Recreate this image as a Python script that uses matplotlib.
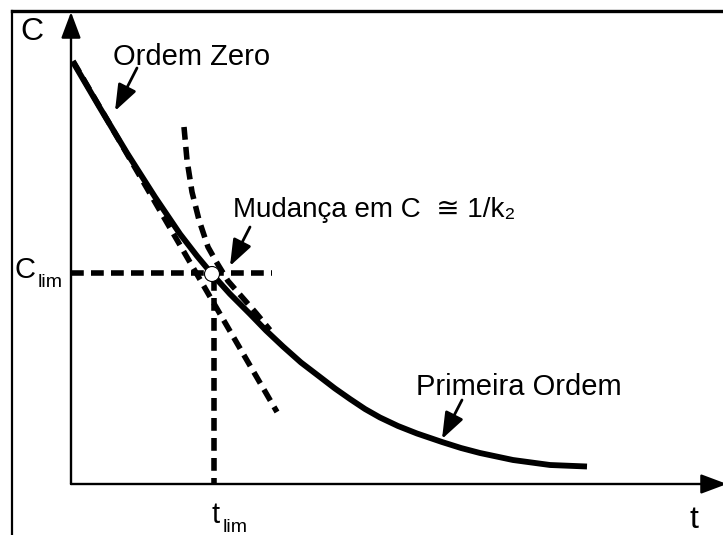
import numpy as np
import matplotlib
matplotlib.use("Agg")
import matplotlib.pyplot as plt
from matplotlib.patches import Circle

plt.rcParams['font.family'] = ['Liberation Sans', 'DejaVu Sans']

# curva de concentracao (unidades arbitrarias)
t_curve = [0.04, 0.58, 1.12, 1.68, 2.18, 2.52, 2.82, 3.18, 3.58, 3.90, 4.24,
           4.60, 4.98, 5.28, 5.58, 5.88, 6.18, 6.54, 6.92, 7.42, 7.80, 8.18,
           8.84, 9.58, 10.32]
c_curve = [8.44, 7.52, 6.62, 5.74, 5.00, 4.56, 4.20, 3.80, 3.40, 3.07, 2.75,
           2.43, 2.14, 1.91, 1.70, 1.50, 1.33, 1.16, 1.01, 0.84, 0.72, 0.62,
           0.48, 0.38, 0.35]

# tangente de ordem zero
t_zero = [0.04, 4.12]
c_zero = [8.46, 1.44]

# curva tracejada (primeira ordem)
t_first = [2.26, 2.32, 2.42, 2.56, 2.74, 2.92, 3.14, 3.42, 3.70, 3.98]
c_first = [7.14, 6.48, 5.84, 5.28, 4.74, 4.42, 4.06, 3.74, 3.42, 3.08]

t_lim = 2.84
c_lim = 4.22

fig = plt.figure(figsize=(7.23, 5.35), dpi=100)
ax = fig.add_axes([0, 0, 1, 1])
ax.set_xlim(-1.42, 13.04)
ax.set_ylim(-1.02, 9.68)
ax.axis('off')

# moldura
fig.add_artist(plt.Line2D([12 / 723, 12 / 723], [0, 1 - 11 / 535], color='black', lw=1.6))
fig.add_artist(plt.Line2D([12 / 723, 1], [1 - 11 / 535, 1 - 11 / 535], color='black', lw=2.4))

# eixos com setas
axis_arrow = dict(arrowstyle='-|>,head_length=0.8,head_width=0.3',
                  mutation_scale=20, lw=1.7, color='black', shrinkA=0, shrinkB=0)
ax.annotate('', xy=(0, 9.44), xytext=(0, 0), arrowprops=axis_arrow)
ax.annotate('', xy=(13.12, 0), xytext=(0, 0), annotation_clip=False,
            arrowprops=axis_arrow)

dash = (2.3, 1.3)
lw_d = 4.0
ax.plot([0, 4.02], [c_lim, c_lim], color='black', lw=lw_d, dashes=dash,
        dash_capstyle='butt')
ax.plot([t_lim + 0.02, t_lim + 0.02], [c_lim - 0.1, 0], color='black', lw=lw_d,
        dashes=dash, dash_capstyle='butt')
ax.plot(t_zero, c_zero, color='black', lw=lw_d, dashes=dash, dash_capstyle='butt')
ax.plot(t_first, c_first, color='black', lw=lw_d, dashes=dash, dash_capstyle='butt')
ax.plot(t_curve, c_curve, color='black', lw=4.2, solid_capstyle='butt',
        solid_joinstyle='round')

ax.add_patch(Circle((t_lim - 0.02, c_lim - 0.02), 0.15, facecolor='white',
                    edgecolor='black', lw=0.8, zorder=5))

# textos
fs = 21
ax.text(-1.02, 8.88, 'C', fontsize=23, ha='left', va='baseline')
ax.text(0.84, 8.38, 'Ordem Zero', fontsize=fs, ha='left', va='baseline')
ax.text(3.24, 5.34, 'Mudança em C  ≅ 1/k₂', fontsize=fs - 1, ha='left', va='baseline')
ax.text(6.9, 1.78, 'Primeira Ordem', fontsize=fs, ha='left', va='baseline')
ax.text(-1.12, 4.12, 'C', fontsize=fs, ha='left', va='baseline')
ax.text(-0.66, 3.94, 'lim', fontsize=14, ha='left', va='baseline')
ax.text(2.80, -0.78, 't', fontsize=fs, ha='left', va='baseline')
ax.text(3.04, -0.96, 'lim', fontsize=14, ha='left', va='baseline')
ax.text(12.38, -0.88, 't', fontsize=23, ha='left', va='baseline')

arrow = dict(arrowstyle='-|>,head_length=0.8,head_width=0.3', mutation_scale=20,
             lw=2.0, color='black', shrinkA=0, shrinkB=0)
ax.annotate('', xy=(0.88, 7.46), xytext=(1.32, 8.32), arrowprops=arrow)
ax.annotate('', xy=(3.18, 4.36), xytext=(3.58, 5.14), arrowprops=arrow)
ax.annotate('', xy=(7.42, 0.90), xytext=(7.82, 1.68), arrowprops=arrow)

fig.savefig('out.png', dpi=100)
